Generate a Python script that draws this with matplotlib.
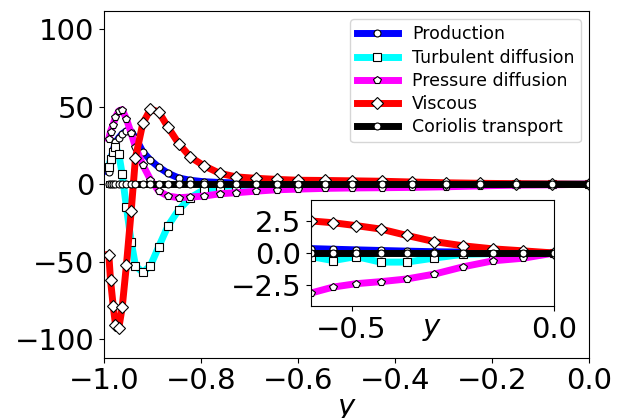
import matplotlib
matplotlib.use("Agg")
import matplotlib.pyplot as plt

# wall-normal grid points (y)
y = [-0.9901, -0.9866, -0.9811, -0.9763, -0.9695, -0.9625, -0.9537, -0.9440,
     -0.9352, -0.9201, -0.9043, -0.8872, -0.8678, -0.8460, -0.8219, -0.7946,
     -0.7616, -0.7273, -0.6867, -0.6443, -0.6000, -0.5455, -0.4885, -0.4282,
     -0.3644, -0.2956, -0.2244, -0.1515, -0.0762, 0.0]

production = [8.0, 15.0, 22.0, 27.0, 30.0, 32.5, 34.5, 34.0, 30.0, 21.0, 15.5,
              11.0, 7.0, 4.0, 2.5, 1.6, 1.1, 0.8, 0.6, 0.45, 0.35, 0.3, 0.25,
              0.2, 0.15, 0.1, 0.07, 0.04, 0.02, 0.0]

turbulent = [11.0, 16.0, 21.0, 24.0, 19.7, 6.3, -15.0, -37.0, -52.6, -57.0,
             -52.6, -40.3, -26.7, -16.5, -8.7, -3.6, -1.5, -0.9, -0.6, -0.4,
             -0.28, -0.6, -0.28, -0.72, -0.72, -0.4, -0.1, -0.05, -0.02, 0.0]

pressure = [29.4, 34.0, 38.5, 43.4, 47.3, 48.2, 42.0, 33.0, 24.0, 12.5, 3.0,
            -4.5, -7.7, -8.7, -8.3, -7.7, -6.2, -5.5, -4.5, -3.6, -3.17, -2.7,
            -2.43, -2.27, -2.06, -1.67, -1.09, -0.62, -0.41, 0.0]

viscous = [-45.4, -61.8, -78.4, -90.7, -92.9, -79.5, -51.9, -17.4, 16.9, 39.2,
           48.4, 46.7, 36.6, 26.2, 17.5, 12.0, 7.0, 4.7, 3.8, 3.1, 2.54, 2.4,
           2.17, 1.9, 1.4, 0.9, 0.57, 0.33, 0.17, 0.0]

coriolis = [0.0] * len(y)

labels = ["Production", "Turbulent diffusion", "Pressure diffusion",
          "Viscous", "Coriolis transport"]
series = [production, turbulent, pressure, viscous, coriolis]
colors = ["#0000ff", "#00ffff", "#ff00ff", "#ff0000", "#000000"]
markers = ["o", "s", "p", "D", "o"]
msizes = [5, 6, 5.5, 6, 5]

fig = plt.figure(figsize=(6.28, 4.18), dpi=100)
ax = fig.add_axes([0.1656, 0.1443, 0.7728, 0.8301])

for vals, lab, c, m, ms in zip(series, labels, colors, markers, msizes):
    ax.plot(y, vals, color=c, lw=5, marker=m, ms=ms, mfc="white",
            mec="black", mew=0.8, label=lab)

ax.set_xlim(-1.0, 0.0)
ax.set_ylim(-112, 112)
ax.set_xticks([-1.0, -0.8, -0.6, -0.4, -0.2, 0.0])
ax.set_yticks([-100, -50, 0, 50, 100])
ax.tick_params(labelsize=21)
ax.set_xlabel("$y$", fontsize=21, labelpad=0)
ax.legend(loc="upper right", fontsize=12.5, handlelength=2.4,
          labelspacing=0.3, borderpad=0.35)

ins = fig.add_axes([0.4952, 0.2679, 0.3874, 0.2536])
for vals, c, m, ms in zip(series, colors, markers, msizes):
    ins.plot(y, vals, color=c, lw=5, marker=m, ms=ms, mfc="white",
             mec="black", mew=0.8)
ins.set_xlim(-0.6, 0.0)
ins.set_ylim(-4.2, 4.2)
ins.set_xticks([-0.5, 0.0])
ins.set_yticks([-2.5, 0.0, 2.5])
ins.tick_params(labelsize=21)
ins.set_xlabel("$y$", fontsize=21, labelpad=-21)

fig.savefig("out.png", dpi=100)
